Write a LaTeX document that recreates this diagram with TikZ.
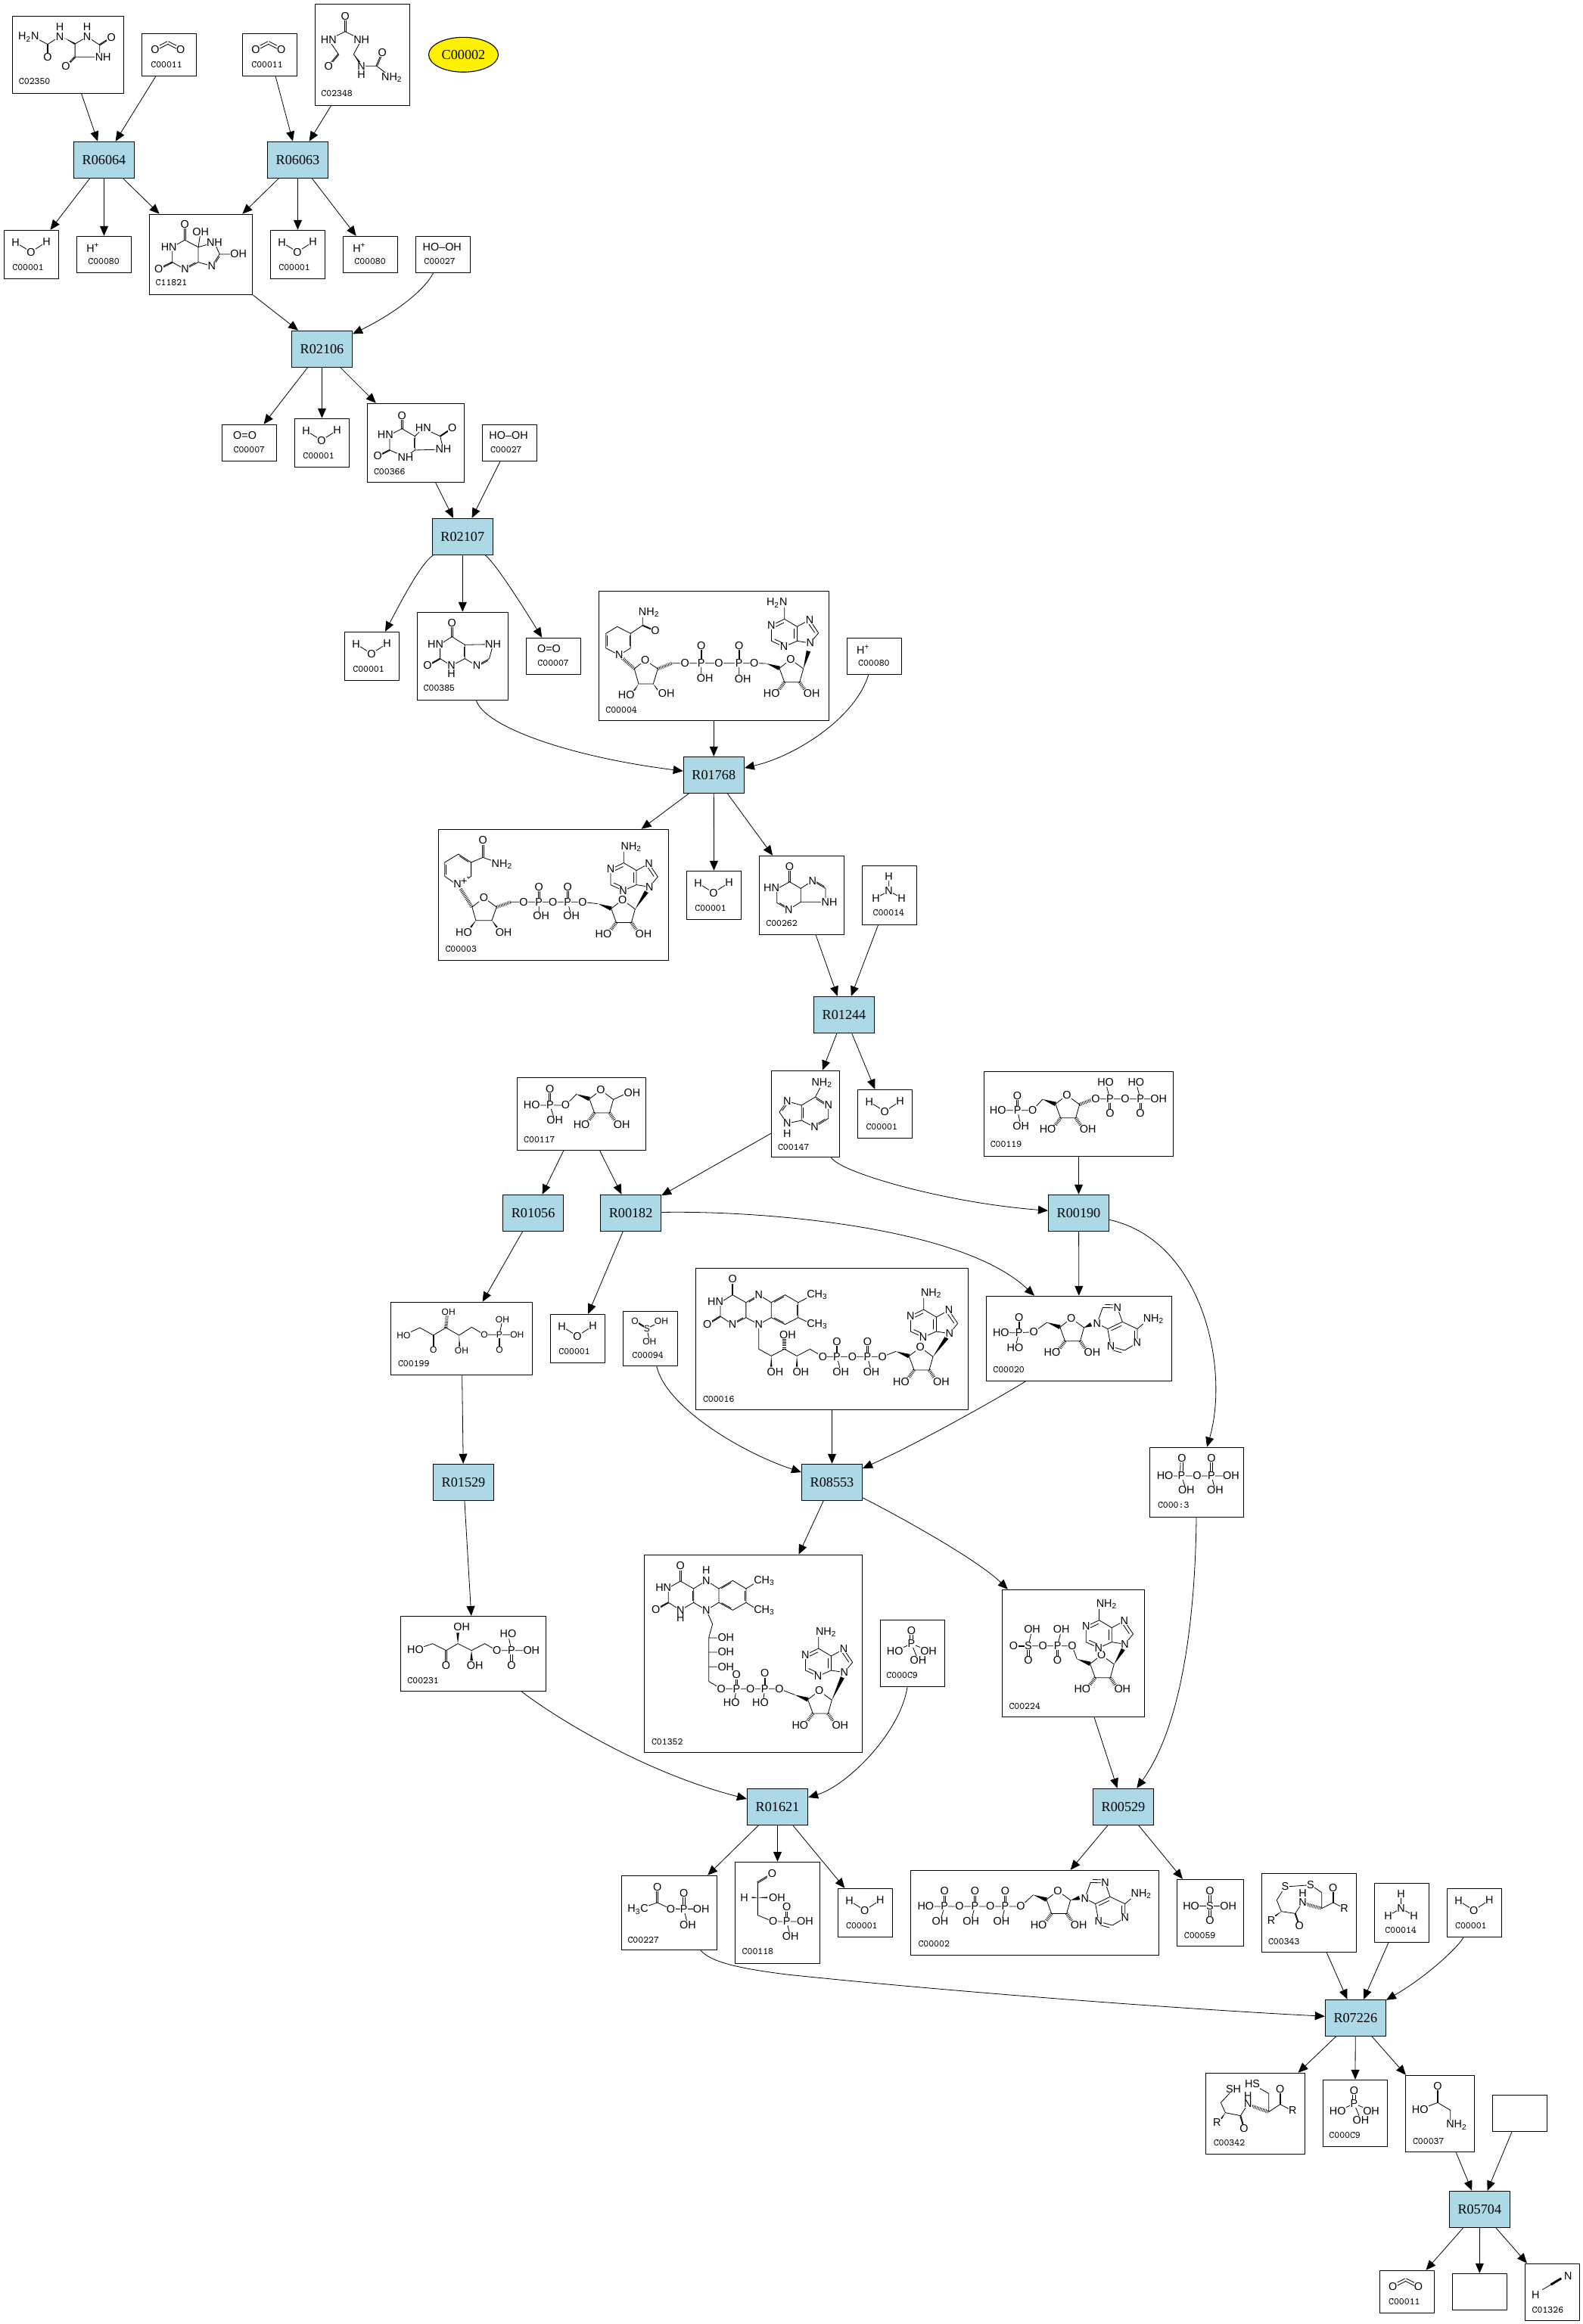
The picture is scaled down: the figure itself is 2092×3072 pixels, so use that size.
\documentclass[tikz,border=0pt]{standalone}
\usepackage{fontspec}
\setmainfont{Liberation Sans}
\newfontfamily\rxnfont{Liberation Serif}
\usetikzlibrary{arrows.meta, calc, shapes.geometric}
\definecolor{rxnblue}{HTML}{ADD8E6}
\newcounter{atomno}
\newcommand{\atomfont}{\fontsize{7.2}{8}\selectfont}
\newcommand{\smallatoms}{\renewcommand{\atomfont}{\fontsize{6}{7}\selectfont}}
\tikzset{
  rxn/.style={draw, line width=0.55pt, fill=rxnblue, minimum width=40pt, minimum height=24pt, inner sep=0pt, font=\rxnfont\fontsize{9.1}{10}\selectfont},
  cpd/.style 2 args={draw, line width=0.55pt, minimum width=#1*0.5pt, minimum height=#2*0.5pt, inner sep=0pt},
  link/.style={line width=0.4pt, -{Triangle[length=6.5pt,width=5.5pt]}},
  bond/.style={line width=0.4pt},
  atom/.style={fill=white, inner sep=0.2pt, font=\atomfont},
  lab/.style={anchor=west, inner sep=0pt, font=\ttfamily\fontsize{6.5}{7}\selectfont},
  z1/.style={xscale=0.4464,yscale=0.3333},
  z2/.style={shift={(780,760)},scale=0.3333},
  z3/.style={shift={(1900,2700)},scale=0.3333},
  z4/.style={shift={(900,1660)},xscale=0.4337,yscale=0.3333},
  z5/.style={shift={(280,520)},scale=0.3333},
  z6/.style={shift={(570,1085)},xscale=0.4209,yscale=0.3333},
  z7/.style={shift={(670,1405)},xscale=0.5741,yscale=0.3333},
  z8/.style={shift={(500,1700)},scale=0.3333},
  z9/.style={shift={(840,2040)},scale=0.3333},
  z10/.style={shift={(520,2090)},xscale=0.6443,yscale=0.3333},
  z11/.style={shift={(810,2440)},xscale=0.6378,yscale=0.3333},
  z12/.style={shift={(1580,2460)},scale=0.3333}
}
\def\atm(#1)#2{\stepcounter{atomno}\node[atom] (a\theatomno) at (#1) {#2};}
\def\lab(#1)#2{\stepcounter{atomno}\node[lab] (l\theatomno) at (#1) {#2};}
\def\dbl(#1)(#2){\draw[bond] ($(#1)!0.9pt!90:(#2)$)--($(#2)!0.9pt!-90:(#1)$) ($(#1)!0.9pt!-90:(#2)$)--($(#2)!0.9pt!90:(#1)$);}
\def\trp(#1)(#2){\draw[bond] (#1)--(#2) ($(#1)!.45!(#2)!1.5pt!90:(#2)$)--($(#2)!1.5pt!-90:(#1)$) ($(#1)!.45!(#2)!1.5pt!-90:(#2)$)--($(#2)!1.5pt!90:(#1)$);}
\def\inr(#1)(#2){\draw[bond] ($(#1)!.15!(#2)!2pt!90:(#2)$)--($(#2)!.15!(#1)!2pt!-90:(#1)$);}
\def\wdg(#1)(#2){\fill (#1)--($(#2)!1.4pt!90:(#1)$)--($(#2)!1.4pt!-90:(#1)$)--cycle;}
\def\hsh(#1)(#2){\draw[line width=2.2pt, dash pattern=on 0.35pt off 0.7pt] (#1)--(#2);}
\newcommand{\riboring}[1]{\begin{scope}[shift={(#1)}]
  \draw[bond] (0,0)--(-16.7,-12.3)--(-31.7,-.7)--(-25,17.7)--(-5,17.7)--cycle;
  \wdg(-49,-7)(-31.7,-.7)
  \hsh(-25,17.7)(-33.3,29.3)
  \hsh(-5,17.7)(1.7,27.7)
  \atm(-16.7,-12.3){O}\atm(-42,33){HO}\atm(11,33){OH}
\end{scope}}
\newcommand{\ribose}[2]{\riboring{#1}\begin{scope}[shift={(#1)}]\wdg(0,0)(#2)\end{scope}}
\newcommand{\adenine}[3]{\begin{scope}[shift={(#1)}]
  \draw[bond] (-34,-31.7)--(-51.3,-23.3)--(-51.3,-2.7)--(-34.7,5)--(-17.3,-2.7)--(-17.3,-21.7)--cycle
    (-17.3,-2.7)--(0,0)--(11,-13.3)--(-.7,-30.7)--(-17.3,-21.7) (-34,-31.7)--(-34,-47);
  \inr(-34,-31.7)(-51.3,-23.3)\inr(-51.3,-2.7)(-34.7,5)\inr(-17.3,-2.7)(-17.3,-21.7)\inr(11,-13.3)(-.7,-30.7)
  \atm(-51.3,-23.3){N}\atm(-34.7,5){N}\atm(-.7,-30.7){N}\atm(0,0){N}\atm(#2,-53){#3}
\end{scope}}
\newcommand{\adeninr}[1]{\begin{scope}[shift={(#1)}]
  \draw[bond] (0,0)--(7.4,-21)--(26.9,-20.3)--(33.4,-2)--(13.9,7.3)--cycle
    (33.4,-2)--(53,7.3)--(53,25.7)--(36.4,35.7)--(18.2,30.7)--(13.9,7.3) (53,7.3)--(64,-2);
  \inr(7.4,-21)(26.9,-20.3)\inr(33.4,-2)(13.9,7.3)\inr(53,25.7)(53,7.3)\inr(36.4,35.7)(18.2,30.7)
  \atm(0,0){N}\atm(26.9,-20.3){N}\atm(53,25.7){N}\atm(18.2,30.7){N}\atm(74.6,-6){NH\textsubscript{2}}
\end{scope}}
\newcommand{\watermol}[1]{\begin{scope}[shift={(#1.north west)}]
  \draw[bond] (15.7,16.7)--(36,29.3)--(56.5,16);
  \atm(15.7,16.7){H}\atm(56.5,16){H}\atm(36,29.3){O}\lab(11,50){C00001}
\end{scope}}
\newcommand{\protonmol}[1]{\begin{scope}[shift={(#1.north west)}]
  \atm(22,15.5){H\textsuperscript{+}}\lab(15,33.7){C00080}
\end{scope}}
\newcommand{\coomol}[1]{\begin{scope}[shift={(#1.north west)}]
  \dbl(34.8,12.7)(17.9,21.4)\dbl(34.8,12.7)(51.8,21.4)
  \atm(17.9,21.4){O}\atm(51.8,21.4){O}\lab(12,41.7){C00011}
\end{scope}}
\newcommand{\peroxmol}[1]{\begin{scope}[shift={(#1.north west)}]
  \atm(35.3,14.7){HO--OH}\lab(11,33.7){C00027}
\end{scope}}
\newcommand{\oxymol}[1]{\begin{scope}[shift={(#1.north west)}]
  \atm(30.7,14.7){O=O}\lab(15.3,33.7){C00007}
\end{scope}}
\newcommand{\ammol}[1]{\begin{scope}[shift={(#1.north west)}]
  \draw[bond] (35.7,14.7)--(35.7,34) (18.7,43.3)--(35.7,34)--(52.7,43.3);
  \atm(35.7,14.7){H}\atm(35.7,34){N}\atm(18.7,43.3){H}\atm(52.7,43.3){H}\lab(14.3,62.7){C00014}
\end{scope}}
\newcommand{\phosmol}[1]{\begin{scope}[shift={(#1.north west)}]
  \dbl(41.7,14.3)(41.7,32)
  \draw[bond] (20,42)--(41.7,32)--(64.3,41.3) (41.7,32)--(50.7,53.7);
  \atm(41.7,14.3){O}\atm(41.7,32){P}\atm(20,42){HO}\atm(64.3,41.3){OH}\atm(50.7,53.7){OH}\lab(8.3,74){C000C9}
\end{scope}}
\begin{document}
\begin{tikzpicture}[x=0.5pt, y=-0.5pt]
  \useasboundingbox (0,0) rectangle (2092,3072);
  \node[cpd={147}{102}] (c02350) at (90,72.3) {};
  \node[cpd={72}{56}] (c00011a) at (223.5,72.3) {};
  \node[cpd={72}{56}] (c00011b) at (356.5,72.3) {};
  \node[cpd={125}{134}] (c02348) at (479,72.3) {};
  \node[ellipse, draw, line width=0.55pt, fill=yellow, minimum width=46pt, minimum height=23pt, inner sep=0pt, font=\rxnfont\fontsize{9.1}{10}\selectfont] (orphan) at (612.5,72.3) {C00002};
  \node[rxn] (r06064) at (137.5,211.3) {R06064};
  \node[rxn] (r06063) at (393.5,211.3) {R06063};
  \node[cpd={72}{64}] (c00001a) at (41.5,336.3) {};
  \node[cpd={72}{48}] (c00080a) at (137.5,336.3) {};
  \node[cpd={136}{106}] (c11821) at (265.5,336.3) {};
  \node[cpd={72}{64}] (c00001b) at (393.5,336.3) {};
  \node[cpd={72}{48}] (c00080b) at (489.5,336.3) {};
  \node[cpd={72}{48}] (c00027a) at (585.5,336.3) {};
  \node[rxn] (r02106) at (425.5,461.3) {R02106};
  \node[cpd={72}{48}] (c00007a) at (329.5,585.3) {};
  \node[cpd={72}{64}] (c00001c) at (425.5,585.3) {};
  \node[cpd={128}{104}] (c00366) at (549.3,585.3) {};
  \node[cpd={72}{48}] (c00027b) at (673.3,585.3) {};
  \node[rxn] (r02107) at (611.3,709.3) {R02107};
  \node[cpd={72}{64}] (c00001d) at (491.5,867.3) {};
  \node[cpd={120}{116}] (c00385) at (611.3,867.3) {};
  \node[cpd={72}{48}] (c00007b) at (731.3,867.3) {};
  \node[cpd={304}{171}] (c00004) at (943.3,866.8) {};
  \node[cpd={72}{48}] (c00080c) at (1155.3,867.3) {};
  \node[rxn] (r01768) at (943.3,1024.3) {R01768};
  \node[cpd={304}{173}] (c00003) at (731.4,1182.8) {};
  \node[cpd={72}{64}] (c00001e) at (943.5,1183.3) {};
  \node[cpd={112}{104}] (c00262) at (1059.5,1183.3) {};
  \node[cpd={72}{78}] (c00014a) at (1175.5,1183.3) {};
  \node[rxn] (r01244) at (1115.5,1341.3) {R01244};
  \node[cpd={170}{96}] (c00117) at (768.5,1472.3) {};
  \node[cpd={90}{114}] (c00147) at (1064.6,1472.3) {};
  \node[cpd={72}{64}] (c00001f) at (1169.7,1472.3) {};
  \node[cpd={250}{112}] (c00119) at (1425.5,1472.3) {};
  \node[rxn] (r01056) at (704.6,1603.3) {R01056};
  \node[rxn] (r00182) at (833.6,1603.3) {R00182};
  \node[rxn] (r00190) at (1425.5,1603.3) {R00190};
  \node[cpd={187}{96}] (c00199) at (610,1769.3) {};
  \node[cpd={72}{64}] (c00001g) at (763.5,1769.3) {};
  \node[cpd={72}{72}] (c00094) at (859.5,1769.3) {};
  \node[cpd={360}{187}] (c00016) at (1099.5,1769.8) {};
  \node[cpd={245}{112}] (c00020) at (1426,1769.3) {};
  \node[rxn] (r01529) at (612.5,1959.3) {R01529};
  \node[rxn] (r08553) at (1099.5,1959.3) {R08553};
  \node[cpd={124}{92}] (c00013) at (1581.5,1959.3) {};
  \node[cpd={192}{99}] (c00231) at (625.7,2186) {};
  \node[cpd={288}{261}] (c01352) at (995.3,2185.8) {};
  \node[cpd={85}{88}] (c00009a) at (1205.8,2185.3) {};
  \node[cpd={187.5}{168}] (c00224) at (1418.5,2185.3) {};
  \node[rxn] (r01621) at (1027.5,2388.3) {R01621};
  \node[rxn] (r00529) at (1484.5,2388.3) {R00529};
  \node[cpd={126}{98}] (c00227) at (884.6,2528.3) {};
  \node[cpd={112}{134}] (c00118) at (1027.5,2528.3) {};
  \node[cpd={72}{64}] (c00001h) at (1143.3,2528.3) {};
  \node[cpd={328}{112}] (c00002) at (1367.4,2528.3) {};
  \node[cpd={88}{88}] (c00059) at (1599.5,2528.3) {};
  \node[cpd={125}{104}] (c00343) at (1730,2528.3) {};
  \node[cpd={72}{78}] (c00014b) at (1852.3,2528.3) {};
  \node[cpd={72}{64}] (c00001i) at (1948.3,2528.3) {};
  \node[rxn] (r07226) at (1791.3,2667.3) {R07226};
  \node[cpd={131}{107}] (c00342) at (1659,2793.8) {};
  \node[cpd={85}{88}] (c00009b) at (1790.8,2793.3) {};
  \node[cpd={91.5}{101}] (c00037) at (1903,2793.8) {};
  \node[cpd={72}{48}] (blanka) at (2008.3,2793.3) {};
  \node[rxn] (r05704) at (1955.3,2920.3) {R05704};
  \node[cpd={72}{56}] (c00011c) at (1859.3,3029.3) {};
  \node[cpd={72}{48}] (blankb) at (1955.3,3029.3) {};
  \node[cpd={72}{75}] (c01326) at (2051.3,3029.7) {};

  \foreach \a/\b in {c02350/r06064,c00011a/r06064,c00011b/r06063,c02348/r06063,
      r06064/c00001a,r06064/c00080a,r06064/c11821,r06063/c11821,r06063/c00001b,r06063/c00080b,
      c11821/r02106,r02106/c00007a,r02106/c00001c,r02106/c00366,c00366/r02107,c00027b/r02107,
      r02107/c00385,c00004/r01768,r01768/c00003,r01768/c00001e,r01768/c00262,
      c00262/r01244,c00014a/r01244,r01244/c00147,r01244/c00001f,c00117/r01056,c00117/r00182,
      c00147/r00182,c00119/r00190,r01056/c00199,r00182/c00001g,r00190/c00020,c00199/r01529,
      r01529/c00231,c00016/r08553,r08553/c01352,c00224/r00529,r01621/c00227,r01621/c00118,
      r01621/c00001h,r00529/c00002,r00529/c00059,c00343/r07226,c00014b/r07226,r07226/c00342,
      r07226/c00009b,r07226/c00037,c00037/r05704,blanka/r05704,r05704/c00011c,r05704/blankb,r05704/c01326} {
    \draw[link] (\a)--(\b);
  }
  \draw[link] (c00027a) .. controls (560,385) and (520,415) .. (r02106);
  \draw[link] (r02107) .. controls (555,745) and (525,805) .. (c00001d);
  \draw[link] (r02107) .. controls (655,745) and (690,800) .. (c00007b);
  \draw[link] (c00385) .. controls (640,960) and (750,1000) .. (r01768);
  \draw[link] (c00080c) .. controls (1130,950) and (1050,1000) .. (r01768);
  \draw[link] (c00147) .. controls (1110,1550) and (1250,1590) .. (r00190);
  \draw[link] (r00182) .. controls (1000,1600) and (1270,1620) .. (c00020);
  \draw[link] (r00190) .. controls (1590,1640) and (1625,1810) .. (c00013);
  \draw[link] (c00094) .. controls (880,1860) and (980,1920) .. (r08553);
  \draw[link] (c00020) .. controls (1350,1830) and (1230,1900) .. (r08553);
  \draw[link] (r08553) .. controls (1180,2000) and (1290,2060) .. (c00224);
  \draw[link] (c00013) .. controls (1580,2100) and (1570,2270) .. (r00529);
  \draw[link] (c00231) .. controls (720,2260) and (840,2340) .. (r01621);
  \draw[link] (c00009a) .. controls (1190,2290) and (1120,2360) .. (r01621);
  \coordinate (bendc) at (1040,2610);
  \draw[link] (c00227) .. controls (940,2595) and (985,2603) .. (bendc) .. controls (1250,2632) and (1550,2655) .. (r07226);
  \draw[link] (c00001i) .. controls (1930,2570) and (1890,2610) .. (r07226);

  \watermol{c00001a}\watermol{c00001b}\watermol{c00001c}\watermol{c00001d}\watermol{c00001e}
  \watermol{c00001f}\watermol{c00001g}\watermol{c00001h}\watermol{c00001i}
  \protonmol{c00080a}\protonmol{c00080b}\protonmol{c00080c}
  \coomol{c00011a}\coomol{c00011b}\coomol{c00011c}
  \peroxmol{c00027a}\peroxmol{c00027b}
  \oxymol{c00007a}\oxymol{c00007b}
  \ammol{c00014a}\ammol{c00014b}
  \phosmol{c00009a}\phosmol{c00009b}

  \begin{scope}[z1]
    \draw[bond] (105,150)--(141,176)--(165,155) (222,174)--(258,146)--(295,178)--(295,226)--(222,226)--cycle;
    \dbl(141,176)(141,226)\dbl(295,178)(330,148)\dbl(222,226)(195,264)
    \wdg(190,150)(222,174)
    \atm(85,147){H\textsubscript{2}N}\atm(177,107){H}\atm(177,147){N}\atm(258,107){H}\atm(258,146){N}
    \atm(330,148){O}\atm(305,227){NH}\atm(195,264){O}\atm(141,226){O}\lab(55,324){C02350}

    \draw[bond] (973,158)--(1022,125)--(1070,158)--(1047,215) (1047,215)--(1070,262)--(1115,262)--(1160,308) (973,158)--(1002,215);
    \dbl(1022,64)(1022,125)\dbl(1002,215)(973,262)\dbl(1115,262)(1132,208)
    \wdg(1047,215)(1066,250)
    \atm(1022,64){O}\atm(973,158){HN}\atm(1070,158){NH}\atm(973,262){O}\atm(1070,262){N}\atm(1070,295){H}
    \atm(1132,208){O}\atm(1160,308){NH\textsubscript{2}}\lab(950,372){C02348}

    \draw[bond] (547,952)--(510,980)--(510,1040)--(548,1068)--(587,1040)--(587,980)--cycle
      (587,980)--(635,962)--(650,1008)--(627,1055)--(587,1040) (587,980)--(594,920) (650,1008)--(706,1008);
    \dbl(547,890)(547,952)\dbl(510,1040)(470,1067)\inr(548,1068)(587,1040)\inr(650,1008)(627,1055)
    \atm(547,890){O}\atm(594,920){OH}\atm(500,980){HN}\atm(635,962){NH}\atm(706,1008){OH}
    \atm(627,1055){N}\atm(548,1068){N}\atm(470,1067){O}\lab(460,1122){C11821}
  \end{scope}

  \begin{scope}[z5]
    \draw[bond] (754,140)--(705,165)--(705,225)--(768,252)--(805,225)--(805,170)--cycle
      (805,170)--(838,138)--(905,170)--(918,222)--(805,225);
    \dbl(754,88)(754,140)\dbl(705,225)(658,248)\dbl(905,170)(953,138)\inr(805,225)(805,170)
    \atm(754,88){O}\atm(688,165){HN}\atm(838,138){HN}\atm(953,138){O}\atm(918,222){NH}\atm(768,254){NH}\atm(658,248){O}
    \lab(641,310){C00366}

    \draw[bond] (952,965)--(905,995)--(905,1052)--(950,1080)--(1003,1052)--(1003,997)--cycle
      (1003,997)--(1115,995)--(1100,1052)--(1050,1080)--(1003,1052);
    \dbl(952,912)(952,965)\dbl(905,1052)(855,1080)\inr(1003,1052)(1003,997)\inr(1100,1052)(1050,1080)
    \atm(952,912){O}\atm(887,995){HN}\atm(1115,995){NH}\atm(1050,1080){N}\atm(950,1080){N}\atm(950,1112){H}\atm(855,1080){O}
    \lab(838,1170){C00385}
  \end{scope}

  \begin{scope}[z2]
    \draw[bond] (107,205)--(160,232)--(160,290)--(115,318)--(62,290)--(62,232)--cycle (160,232)--(208,200)--(208,165);
    \inr(160,290)(160,232)\inr(62,232)(62,290)\dbl(208,200)(258,222)
    \hsh(122,325)(175,372)
    \draw[bond] (175,372)--(218,338)--(268,372)--(250,432)--(192,432)--cycle;
    \wdg(192,432)(172,462)\wdg(250,432)(272,462)\hsh(268,372)(325,350)
    \draw[bond] (325,350)--(376,350)--(440,350)--(510,350)--(590,350)--(650,350)--(698,351) (440,350)--(440,410) (590,350)--(590,412);
    \dbl(440,282)(440,350)\dbl(590,282)(590,350)
    \atm(233,148){NH\textsubscript{2}}\atm(258,222){O}\atm(115,318){N}\atm(218,338){O}\atm(143,475){HO}\atm(302,470){OH}
    \atm(376,350){O}\atm(440,350){P}\atm(510,350){O}\atm(590,350){P}\atm(650,350){O}
    \atm(440,282){O}\atm(590,282){O}\atm(455,410){OH}\atm(605,412){OH}\lab(60,535){C00004}
  \end{scope}
  \ribose{1061.7,884}{6.7,-23.3}
  \adenine{1070.7,850}{-44}{H\textsubscript{2}N}

  \begin{scope}[z6]
    \draw[bond] (85,132)--(42,165)--(42,220)--(82,255)--(125,220)--(125,165)--cycle (125,165)--(162,145)--(222,172);
    \inr(42,165)(42,220)\inr(82,255)(125,220)\inr(125,165)(85,132)\dbl(162,78)(162,145)
    \hsh(92,270)(128,342)
    \draw[bond] (128,342)--(165,305)--(205,342)--(190,395)--(140,395)--cycle;
    \wdg(140,395)(124,422)\wdg(190,395)(206,422)\hsh(205,342)(250,322)
    \draw[bond] (250,322)--(290,322)--(338,322)--(382,322)--(428,322)--(475,322)--(522,329) (338,322)--(338,378) (428,322)--(440,378);
    \dbl(338,262)(338,322)\dbl(428,262)(428,322)
    \atm(162,78){O}\atm(222,172){NH\textsubscript{2}}\atm(82,252){N}\atm(103,240){+}\atm(165,305){O}\atm(102,442){HO}\atm(227,442){OH}
    \atm(290,322){O}\atm(338,322){P}\atm(382,322){O}\atm(428,322){P}\atm(475,322){O}\atm(338,262){O}\atm(428,262){O}
    \atm(345,378){OH}\atm(440,378){OH}\lab(43,510){C00003}

    \draw[bond] (1125,242)--(1085,270)--(1085,325)--(1122,352)--(1160,322)--(1160,268)--cycle
      (1160,268)--(1197,238)--(1238,268)--(1238,322)--(1160,322);
    \dbl(1125,182)(1125,242)\inr(1085,325)(1122,352)\inr(1197,238)(1238,268)
    \atm(1125,182){O}\atm(1068,267){HN}\atm(1122,352){N}\atm(1197,238){N}\atm(1250,322){NH}\lab(1050,408){C00262}
  \end{scope}
  \ribose{839.4,1201.7}{15,-23}
  \adenine{858.3,1172.3}{-24}{NH\textsubscript{2}}

  \begin{scope}[z7]
    \draw[bond] (57,168)--(99,168)--(135,168)--(160,124) (99,168)--(110,228) (245,145)--(270,125);
    \dbl(99,103)(99,168)
    \atm(99,103){O}\atm(99,168){P}\atm(57,168){HO}\atm(135,168){O}\atm(110,228){OH}\atm(288,118){OH}\lab(38,303){C00117}

    \draw[bond] (710,135)--(740,168)--(740,220)--(708,255)--(678,228)--(678,168)--cycle (710,135)--(725,85)
      (678,168)--(645,152)--(627,195)--(645,240)--(678,228);
    \inr(678,168)(678,228)\inr(708,255)(740,220)\inr(740,168)(710,135)\inr(645,152)(627,195)
    \atm(725,80){NH\textsubscript{2}}\atm(740,168){N}\atm(708,255){N}\atm(645,152){N}\atm(645,240){N}\atm(645,280){H}\lab(623,333){C00147}

    \draw[bond] (1130,188)--(1175,188)--(1210,188)--(1233,144) (1175,188)--(1183,250)
      (1350,143)--(1388,143)--(1423,143)--(1458,143)--(1500,143) (1388,143)--(1378,78) (1458,143)--(1448,78);
    \dbl(1175,130)(1175,188)\dbl(1388,143)(1388,200)\dbl(1458,143)(1458,200)
    \hsh(1318,165)(1350,143)
    \atm(1175,130){O}\atm(1175,188){P}\atm(1130,188){HO}\atm(1183,250){OH}\atm(1210,188){O}
    \atm(1355,143){O}\atm(1388,143){P}\atm(1378,78){HO}\atm(1388,200){O}\atm(1423,143){O}\atm(1458,143){P}
    \atm(1448,78){HO}\atm(1500,143){OH}\atm(1458,200){O}\lab(1112,323){C00119}
  \end{scope}
  \riboring{810.6,1453.3}
  \riboring{1426.6,1460}

  \begin{scope}[z8]
    \smallatoms
    \draw[bond] (100,195)--(165,165)--(218,195)--(268,165)--(320,195)--(370,163)--(420,193)--(480,193)--(550,193) (480,193)--(492,133);
    \dbl(218,195)(218,253)\dbl(480,193)(480,253)
    \hsh(268,165)(272,118)\wdg(320,195)(322,240)
    \atm(100,195){HO}\atm(218,253){O}\atm(278,103){OH}\atm(330,255){OH}\atm(420,193){O}\atm(480,193){P}
    \atm(492,133){OH}\atm(550,193){OH}\atm(480,253){O}\lab(77,308){C00199}

    \draw[bond] (1065,168)--(1122,140) (1065,168)--(1075,220);
    \dbl(1017,138)(1065,168)
    \atm(1017,138){O}\atm(1065,168){S}\atm(1122,140){OH}\atm(1075,220){OH}\lab(1005,273){C00094}
  \end{scope}

  \begin{scope}[z4]
    \draw[bond] (157,155)--(120,185)--(120,240)--(157,272)--(198,245)--(198,185)--cycle (198,185)--(237,155)--(275,185)--(275,245)--(237,272)--(198,245)
      (275,185)--(317,155)--(357,185)--(357,245)--(317,272)--(275,245) (357,185)--(395,160) (357,245)--(395,268)
      (237,272)--(237,370)--(275,397)--(315,370)--(353,397)--(393,370)--(432,400)--(475,400)--(522,400)--(568,400)--(614,400)--(655,379)
      (475,400)--(487,460) (568,400)--(580,460);
    \dbl(157,93)(157,155)\dbl(120,240)(80,272)\dbl(475,340)(475,400)\dbl(568,340)(568,400)
    \inr(157,272)(198,245)\inr(237,155)(198,185)\inr(317,155)(275,185)\inr(275,245)(317,272)\inr(357,245)(357,185)
    \wdg(275,397)(275,440)\hsh(315,370)(315,330)\wdg(353,397)(353,440)
    \atm(157,93){O}\atm(105,183){HN}\atm(80,272){O}\atm(157,272){N}\atm(237,155){N}\atm(237,272){N}
    \atm(415,155){CH\textsubscript{3}}\atm(415,272){CH\textsubscript{3}}\atm(287,460){OH}\atm(325,313){OH}\atm(365,460){OH}
    \atm(432,400){O}\atm(475,400){P}\atm(522,400){O}\atm(568,400){P}\atm(614,400){O}\atm(475,340){O}\atm(568,340){O}
    \atm(487,460){OH}\atm(580,460){OH}\lab(66,568){C00016}

    \draw[bond] (975,305)--(1030,305)--(1075,302)--(1115,264) (1030,305)--(1018,365);
    \dbl(1030,245)(1030,305)
    \atm(1030,245){O}\atm(1030,305){P}\atm(975,305){HO}\atm(1018,365){HO}\atm(1075,302){O}\lab(950,453){C00020}
  \end{scope}
  \ribose{1233,1793.3}{18,-25}
  \adenine{1254.7,1762.7}{-24}{NH\textsubscript{2}}
  \ribose{1432.5,1755}{9.5,-4.3}
  \adeninr{1449.9,1749.3}

  \begin{scope}[shift={(0,0)}]
    \draw[bond] (1539.6,1951)--(1627,1951) (1561.3,1951)--(1567.8,1970) (1601,1951)--(1606,1970);
    \dbl(1562,1927.7)(1561.3,1951)\dbl(1601,1927.7)(1601,1951)
    \atm(1562,1927.7){O}\atm(1601,1927.7){O}\atm(1539.6,1951){HO}\atm(1561.3,1951){P}\atm(1582,1951){O}\atm(1601,1951){P}
    \atm(1627,1951){OH}\atm(1567.8,1970){OH}\atm(1606,1970){OH}\lab(1529.6,1990){C000:3}
  \end{scope}

  \begin{scope}[z9]
    \draw[bond] (178,150)--(130,177)--(130,235)--(178,265)--(230,235)--(230,180)--cycle (230,180)--(280,148)--(330,180)--(330,235)--(280,265)--(230,235)
      (330,180)--(385,148)--(438,180)--(438,235)--(385,265)--(330,235) (438,180)--(470,160) (438,235)--(470,255)
      (280,265)--(305,320)--(290,375)--(290,548)--(340,577)--(400,577)--(455,577)--(512,577)--(570,577)--(631,601)
      (290,375)--(358,375) (290,432)--(358,432) (290,490)--(358,490) (400,577)--(390,632) (512,577)--(505,632);
    \dbl(178,90)(178,150)\dbl(130,235)(80,263)\dbl(400,522)(400,577)\dbl(512,516)(512,577)
    \inr(230,235)(230,180)\inr(385,148)(330,180)\inr(330,235)(385,265)\inr(438,235)(438,180)
    \atm(178,90){O}\atm(110,177){HN}\atm(80,263){O}\atm(178,265){N}\atm(178,297){H}\atm(280,148){N}\atm(280,108){H}\atm(280,265){N}
    \atm(510,148){CH\textsubscript{3}}\atm(510,265){CH\textsubscript{3}}\atm(358,375){OH}\atm(358,432){OH}\atm(358,490){OH}
    \atm(340,577){O}\atm(400,577){P}\atm(455,577){O}\atm(512,577){P}\atm(570,577){O}\atm(400,522){O}\atm(512,516){O}
    \atm(380,632){HO}\atm(495,632){HO}\lab(62,787){C01352}
  \end{scope}
  \ribose{1099.3,2247.3}{14,-30}
  \adenine{1115.7,2210.7}{-24}{NH\textsubscript{2}}

  \begin{scope}[z10]
    \draw[bond] (45,272)--(80,248)--(108,275)--(132,248)--(160,275)--(187,248)--(212,275)--(283,275) (242,275)--(235,210);
    \dbl(108,275)(108,335)\dbl(242,275)(242,335)
    \wdg(132,248)(132,205)\wdg(160,275)(160,315)
    \atm(45,272){HO}\atm(108,335){O}\atm(140,183){OH}\atm(167,335){OH}\atm(212,275){O}\atm(242,275){P}
    \atm(235,210){HO}\atm(283,275){OH}\atm(242,335){O}\lab(28,395){C00231}

    \draw[bond] (1302,257)--(1332,257)--(1362,257)--(1392,257)--(1402,309) (1302,257)--(1310,192) (1362,257)--(1370,192);
    \dbl(1272,257)(1302,257)\dbl(1302,257)(1302,315)\dbl(1362,257)(1362,315)
    \atm(1272,257){O}\atm(1302,257){S}\atm(1310,192){OH}\atm(1302,315){O}\atm(1332,257){O}\atm(1362,257){P}
    \atm(1370,192){OH}\atm(1362,315){O}\atm(1392,257){O}\lab(1262,497){C00224}
  \end{scope}
  \ribose{1472.3,2200}{12,-20}
  \adenine{1486.5,2173.3}{-24}{NH\textsubscript{2}}

  \begin{scope}[z11]
    \draw[bond] (52,252)--(92,225)--(120,250)--(183,250) (147,250)--(155,313);
    \dbl(92,163)(92,225)\dbl(147,188)(147,250)
    \atm(52,252){H\textsubscript{3}C}\atm(92,163){O}\atm(120,250){O}\atm(147,250){P}\atm(147,188){O}\atm(183,250){OH}\atm(155,313){OH}\lab(30,373){C00227}

    \draw[bond] (300,145)--(300,275)--(332,300)--(398,300) (360,300)--(368,360);
    \dbl(330,110)(300,145)\dbl(360,243)(360,300)
    \wdg(300,205)(288,205)\wdg(300,205)(320,205)
    \atm(330,110){O}\atm(272,205){H}\atm(340,205){OH}\atm(332,300){O}\atm(360,300){P}\atm(360,243){O}\atm(398,300){OH}\atm(368,360){OH}\lab(267,420){C00118}

    \draw[bond] (648,240)--(845,240)--(871,194) (687,240)--(678,300) (750,240)--(742,300) (813,240)--(805,300);
    \dbl(687,180)(687,240)\dbl(750,180)(750,240)\dbl(813,180)(813,240)
    \atm(648,240){HO}\atm(687,240){P}\atm(718,240){O}\atm(750,240){P}\atm(782,240){O}\atm(813,240){P}\atm(845,240){O}
    \atm(687,180){O}\atm(750,180){O}\atm(813,180){O}\atm(678,300){OH}\atm(742,300){OH}\atm(805,300){OH}\lab(632,390){C00002}

    \draw[bond] (1198,238)--(1275,238);
    \dbl(1237,178)(1237,238)\dbl(1237,238)(1237,295)
    \atm(1237,178){O}\atm(1237,238){S}\atm(1237,295){O}\atm(1198,238){HO}\atm(1275,238){OH}\lab(1183,355){C00059}
  \end{scope}
  \ribose{1414.6,2511.7}{12,-3}
  \adeninr{1433.7,2509.3}

  \begin{scope}[z12]
    \draw[bond] (355,102)--(456,95)--(500,125)--(500,188)--(545,165)--(590,187) (355,102)--(322,155)--(340,200)--(395,208)--(425,163);
    \dbl(395,208)(412,258)\dbl(545,107)(545,165)
    \hsh(440,172)(500,188)\wdg(340,200)(316,218)
    \atm(355,102){S}\atm(456,95){S}\atm(425,127){H}\atm(425,163){N}\atm(412,258){O}\atm(545,107){O}\atm(590,187){R}\atm(300,235){R}\lab(287,318){C00343}

    \draw[bond] (150,905)--(100,958)--(118,998)--(178,1010)--(208,963) (225,885)--(290,922)--(290,995)--(335,965)--(385,990);
    \dbl(178,1010)(192,1060)\dbl(335,905)(335,965)
    \hsh(225,972)(290,995)\wdg(118,998)(102,1022)
    \atm(150,905){SH}\atm(225,885){HS}\atm(208,932){H}\atm(208,963){N}\atm(192,1060){O}\atm(335,905){O}\atm(385,990){R}\atm(85,1038){R}\lab(70,1118){C00342}

    \draw[bond] (890,985)--(960,958)--(1010,988)--(1010,1035);
    \dbl(960,893)(960,958)
    \atm(960,893){O}\atm(890,985){HO}\atm(1035,1047){NH\textsubscript{2}}\lab(860,1110){C00037}
  \end{scope}

  \begin{scope}[z3]
    \trp(415,980)(490,935)
    \atm(388,1000){H}\atm(517,925){N}\lab(373,1060){C01326}
  \end{scope}
\end{tikzpicture}
\end{document}
